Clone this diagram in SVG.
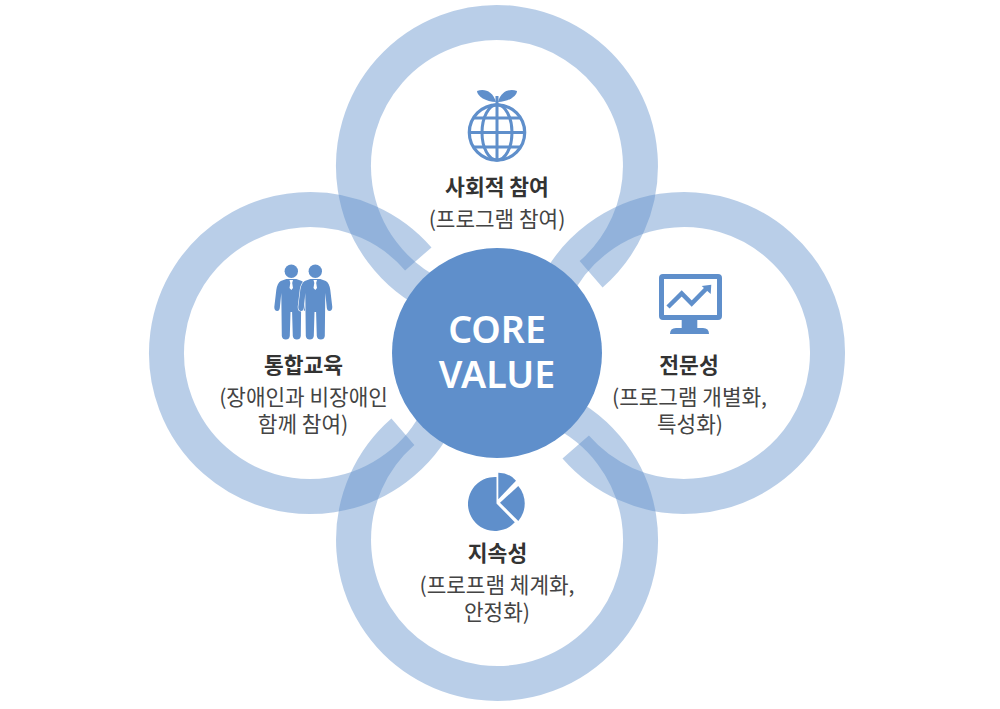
<svg xmlns="http://www.w3.org/2000/svg" width="1000" height="709" viewBox="0 0 1000 709">
<style>
.ring{fill:none;stroke:#5f8fcb;stroke-opacity:.44;stroke-width:35}
.ic{fill:#5f8fcb}
.ln{fill:none;stroke:#5f8fcb}
text{font-family:"Noto Sans CJK KR","Noto Sans",sans-serif;text-anchor:middle;fill:#333}
.t{font-size:21.500px;font-weight:700}
.s{font-size:21.300px;font-weight:400;fill:#444}
.c{font-family:"Noto Sans",sans-serif;font-size:37.500px;font-weight:600;fill:#fff}
</style>
<rect width="1000" height="709" fill="#fff"/>
<g id="connectors">
<path id="ring-top" class="ring" d="M497 309.500A143.500 143.500 0 1 1 591.100 274.300"/>
<path id="ring-right" class="ring" d="M540.500 353A143.500 143.500 0 1 1 575.700 447.100"/>
<path id="ring-bottom" class="ring" d="M497 396.500A143.500 143.500 0 1 1 402.900 431.700"/>
<path id="ring-left" class="ring" d="M453.500 353A143.500 143.500 0 1 1 418.300 258.900"/>
</g>
<g id="core"><circle cx="497" cy="353" r="105" fill="#5f8fcb"/>
<text class="c" x="497" y="343">CORE</text><text class="c" x="497" y="388">VALUE</text></g>
<g id="node-top">
<circle class="ln" cx="497" cy="132.500" r="27.700" stroke-width="3.200"/>
<ellipse class="ln" cx="497" cy="132.500" rx="15" ry="27.700" stroke-width="3"/>
<path class="ln" stroke-width="3" d="M497 96V160M469.300 132.500H524.700M473 118H521M473 147H521"/>
<path class="ic" d="M496 102C493 91 484 88 477 91C477 96 486 102 496 102Z"/>
<path class="ic" d="M498 102C501 91 510 88 517 91C517 96 508 102 498 102Z"/>
<text class="t" x="497" y="195">사회적 참여</text>
<text class="s" x="497" y="227">(프로그램 참여)</text>
</g>
<g id="node-left">
<defs><path id="man" d="M-5 279L5 279L10.500 281Q14 283 15 290L17 307Q17 311 14 311Q12 311 11.500 308L10 293L9.500 336Q9 339.500 5.500 339.500Q2 339.500 1.500 336L.8 312L-.8 312L-1.500 336Q-2 339.500-5.500 339.500Q-9 339.500-9.500 336L-10 293L-11.500 308Q-12 311-14 311Q-17 311-17 307L-15 290Q-14 283-10.500 281Z"/></defs>
<circle class="ic" cx="291.300" cy="271.300" r="6.700"/><circle class="ic" cx="315.300" cy="271.300" r="6.700"/>
<use href="#man" x="291.300" class="ic"/>
<use href="#man" x="315.300" class="ic" stroke="#fff" stroke-width="1.200" paint-order="stroke"/>
<path d="M289.500 280H293L292.200 283L293 288L291.300 290L289.500 288L290.300 283Z" fill="#fff"/>
<path d="M313.500 280H317L316.200 283L317 288L315.300 290L313.500 288L314.300 283Z" fill="#fff"/>
<text class="t" x="303.500" y="373">통합교육</text>
<text class="s" x="303.500" y="405">(장애인과 비장애인</text>
<text class="s" x="303" y="432">함께 참여)</text>
</g>
<g id="node-right">
<rect class="ln" x="661.500" y="276.500" width="58" height="41" rx="1.500" stroke-width="5"/>
<path class="ic" d="M681.700 319H697.300V328H703Q709 328 709 334H670Q670 328 676 328H681.700Z"/>
<path class="ln" stroke-width="4.500" d="M668 307L681.700 293.500L691.700 303.500L706 289"/>
<path class="ic" d="M701.700 286L711.300 284.700L710.700 294Z"/>
<text class="t" x="689" y="373">전문성</text>
<text class="s" x="689.500" y="405">(프로그램 개별화,</text>
<text class="s" x="690" y="432">특성화)</text>
</g>
<g id="node-bottom">
<path class="ic" d="M495 477A27 27 0 1 0 513.300 522.300L495 503.500Z" transform="translate(1.500 0)"/>
<path class="ic" d="M498.300 472.700A23 23 0 0 1 516 480.700L498.300 499.300Z"/>
<path class="ic" d="M500 502.700L518.300 486A27 27 0 0 1 518.300 521Z"/>
<text class="t" x="497.500" y="561">지속성</text>
<text class="s" x="497" y="593">(프로프램 체계화,</text>
<text class="s" x="497" y="620">안정화)</text>
</g>
</svg>
